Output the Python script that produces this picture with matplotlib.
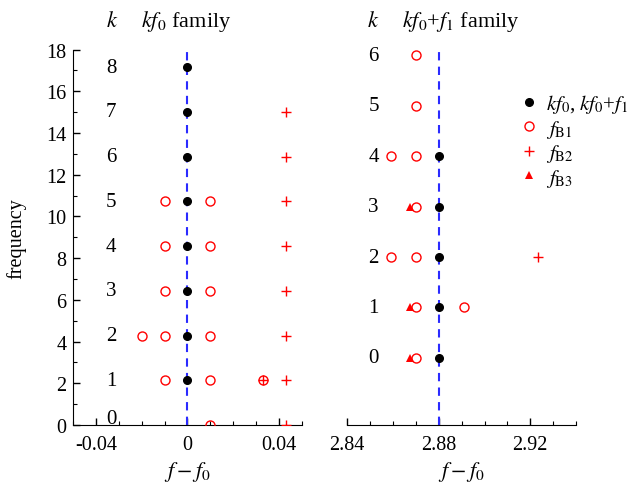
# two-panel frequency family plot: kf0 family (left) and kf0+f1 family (right)

import numpy as np
import matplotlib
matplotlib.use("Agg")
import matplotlib.pyplot as plt
from matplotlib.ticker import MultipleLocator

plt.rcParams["font.family"] = "Liberation Serif"
plt.rcParams["mathtext.fontset"] = "stix"
plt.rcParams["font.size"] = 14.5
plt.rcParams["axes.unicode_minus"] = False

# ---- data ----
f0 = 2.145

# left panel: kf0 family (x = f - f0 offset, y = k * f0)
left_k_black = [1, 2, 3, 4, 5, 6, 7, 8]
left_x_black = [0.0] * 8
left_k_b1 = [1, 2, 3, 4, 5, 0, 1, 2, 3, 4, 5, 2, 1]
left_x_b1 = [-0.01, -0.01, -0.01, -0.01, -0.01,
             0.01, 0.01, 0.01, 0.01, 0.01, 0.01, -0.02, 0.033]
left_k_b2 = [0, 1, 2, 3, 4, 5, 6, 7, 1]
left_x_b2 = [0.043] * 8 + [0.033]
left_k_labels = [0, 1, 2, 3, 4, 5, 6, 7, 8]

# right panel: kf0+f1 family (y = k)
right_k_black = [0, 1, 2, 3, 4]
right_x_black = [2.88] * 5
right_k_b1 = [0, 1, 2, 3, 4, 5, 6, 2, 4, 1]
right_x_b1 = [2.870] * 7 + [2.859, 2.859, 2.891]
right_k_b2 = [2]
right_x_b2 = [2.9235]
right_k_b3 = [0, 1, 3]
right_x_b3 = [2.8676] * 3
right_k_labels = [0, 1, 2, 3, 4, 5, 6]

RED = "#ff0000"
BLUE = "#2b2bff"
FS = 14.5

fig = plt.figure(figsize=(6.28, 4.85), dpi=100)
axL = fig.add_axes([0.1167, 0.1216, 0.3637, 0.7740])
axR = fig.add_axes([0.5530, 0.1216, 0.3642, 0.7740])


def style_axis(ax, show_left):
    for s in ("top", "right"):
        ax.spines[s].set_visible(False)
    if not show_left:
        ax.spines["left"].set_visible(False)
        ax.set_yticks([])
    ax.xaxis.set_minor_locator(MultipleLocator(0.01))
    ax.tick_params(which="both", direction="in", top=False, right=False,
                   labelsize=FS, pad=7)
    ax.tick_params(which="major", length=5, width=1)
    ax.tick_params(which="minor", length=3, width=0.8)


def draw_points(ax, xb, kb, yfun, x1=None, k1=None, x2=None, k2=None, x3=None, k3=None):
    ax.plot(xb, [yfun(k) for k in kb], "o", ms=5.5, color="black", zorder=4,
            label="$kf_0$, $kf_0$+$f_1$")
    if x1 is not None:
        ax.plot(x1, [yfun(k) for k in k1], "o", ms=6.5, mfc="none", mec=RED, mew=1.0,
                zorder=3, label=r"$f_{\rm B1}$")
    if x2 is not None:
        ax.plot(x2, [yfun(k) for k in k2], "+", ms=7, color=RED, mew=1.0,
                zorder=3, label=r"$f_{\rm B2}$")
    if x3 is not None:
        ax.plot(x3, [yfun(k) for k in k3], "^", ms=6, color=RED, mew=0,
                zorder=3, label=r"$f_{\rm B3}$")


# ---- left panel ----
draw_points(axL, left_x_black, left_k_black, lambda k: k * f0,
            left_x_b1, left_k_b1, left_x_b2, left_k_b2)
axL.axvline(0, color=BLUE, lw=1.5, dashes=(4, 3), zorder=2)
for k in left_k_labels:
    axL.text(-0.0335, max(k * f0, 0.3), str(k), ha="center", va="center", fontsize=15)
axL.set_xlim(-0.05, 0.05)
axL.set_ylim(0, 18)
axL.set_xticks([-0.04, 0, 0.04])
axL.set_xticklabels(["-0.04", "0", "0.04"])
axL.yaxis.set_major_locator(MultipleLocator(2))
axL.yaxis.set_minor_locator(MultipleLocator(1))
style_axis(axL, True)
axL.tick_params(axis="y", which="both", pad=5)
axL.set_ylabel("frequency", fontsize=FS, labelpad=14)
axL.set_xlabel("$f-f_0$", fontsize=16, labelpad=4)
for sp in axL.spines.values():
    sp.set_clip_on(False)

# ---- right panel ----
draw_points(axR, right_x_black, right_k_black, lambda k: k,
            right_x_b1, right_k_b1, right_x_b2, right_k_b2, right_x_b3, right_k_b3)
axR.axvline(2.88, color=BLUE, lw=1.5, dashes=(4, 3), zorder=2)
for k in right_k_labels:
    axR.text(2.8515, k, str(k), ha="center", va="center", fontsize=15)
axR.set_xlim(2.84, 2.94)
axR.set_ylim(-1.33, 6.11)
axR.set_xticks([2.84, 2.88, 2.92])
axR.set_xticklabels(["2.84", "2.88", "2.92"])
style_axis(axR, False)
axR.set_xlabel("$f-f_0$", fontsize=16, labelpad=4)

# ---- column headers ----
fig.text(0.178, 0.955, "$k$", ha="center", va="center", fontsize=16)
fig.text(0.224, 0.955, "$kf_0$ family", ha="left", va="center", fontsize=16)
fig.text(0.594, 0.955, "$k$", ha="center", va="center", fontsize=16)
fig.text(0.640, 0.955, "$kf_0$+$f_1$ family", ha="left", va="center", fontsize=16)

# ---- legend ----
handles, labels = axR.get_legend_handles_labels()
fig.legend(handles, labels, loc="upper left", bbox_to_anchor=(0.832, 0.808),
           frameon=False, fontsize=15, handlelength=0.6, handletextpad=0.55,
           labelspacing=0.12, borderpad=0.0, borderaxespad=0.0, numpoints=1)

fig.savefig("out.png", dpi=100)
